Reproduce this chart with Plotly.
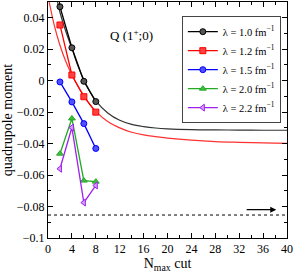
import plotly.graph_objects as go

nmax = [2, 4, 6, 8]
q_l10 = [0.0470, 0.0209, -0.0004, -0.0133]
q_l12 = [0.0354, 0.0036, -0.0102, -0.0200]
q_l15 = [-0.0008, -0.0135, -0.0273, -0.0431]
q_l20 = [-0.0464, -0.0240, -0.0635, -0.0642]
q_l22 = [-0.0560, -0.0298, -0.0775, -0.0666]

# extrapolation curves
fit_n_10 = [1.6, 2, 3, 4, 5, 6, 7, 8, 10, 12, 14, 16, 18, 20, 24, 28, 32, 36, 40]
fit_q_10 = [0.050, 0.0435, 0.031, 0.0205, 0.0095, 0.0005, -0.0068, -0.0128, -0.0205, -0.0252,
            -0.0278, -0.0292, -0.0301, -0.0306, -0.0311, -0.0313, -0.0314, -0.0315, -0.0315]
fit_n_12 = [0.2, 1, 2, 3, 4, 5, 6, 7, 8, 10, 12, 14, 16, 18, 20, 24, 28, 32, 36, 40]
fit_q_12 = [0.050, 0.036, 0.0225, 0.012, 0.0036, -0.0035, -0.0095, -0.015, -0.0195, -0.026,
            -0.030, -0.0328, -0.0345, -0.0356, -0.0365, -0.0378, -0.0387, -0.0392, -0.0396, -0.0398]

exact_q = -0.0854
labels = ["λ = 1.0 fm<sup>−1</sup>", "λ = 1.2 fm<sup>−1</sup>", "λ = 1.5 fm<sup>−1</sup>",
          "λ = 2.0 fm<sup>−1</sup>", "λ = 2.2 fm<sup>−1</sup>"]

FONT = "Liberation Serif"
fig = go.Figure()

fig.add_trace(go.Scatter(x=fit_n_10, y=fit_q_10, mode="lines", line=dict(color="#333333", width=1.2, shape="spline"),
                         showlegend=False, hoverinfo="skip"))
fig.add_trace(go.Scatter(x=fit_n_12, y=fit_q_12, mode="lines", line=dict(color="#ff3030", width=1.2, shape="spline"),
                         showlegend=False, hoverinfo="skip"))
fig.add_trace(go.Scatter(x=[0, 40], y=[exact_q, exact_q], mode="lines",
                         line=dict(color="black", width=1, dash="dot"), showlegend=False, hoverinfo="skip"))

series = [
    (q_l10, labels[0], "black", "circle", "#555555"),
    (q_l12, labels[1], "#ff0000", "square", "#ff4040"),
    (q_l15, labels[2], "#0000ff", "circle", "#5050ff"),
    (q_l20, labels[3], "#22aa22", "triangle-up", "#44bb44"),
    (q_l22, labels[4], "#a020f0", "triangle-left", "#d0a0ff"),
]
for y, name, col, sym, fill in series:
    fig.add_trace(go.Scatter(x=nmax, y=y, name=name, mode="lines+markers",
                             line=dict(color=col, width=1.3),
                             marker=dict(symbol=sym, size=6, color=fill, line=dict(color=col, width=1))))

fig.add_annotation(x=38.2, y=-0.082, ax=33, ay=-0.082, xref="x", yref="y", axref="x", ayref="y",
                   showarrow=True, arrowhead=2, arrowsize=1, arrowwidth=1.2, arrowcolor="black", text="")
fig.add_annotation(x=10, y=0.029, xref="x", yref="y", xanchor="left", yanchor="middle",
                   text="Q (1<sup>+</sup>;0)", showarrow=False, font=dict(family=FONT, size=13, color="black"))

axis_common = dict(showline=True, linecolor="black", linewidth=1, mirror="allticks", ticks="inside",
                   ticklen=5, tickcolor="black", showgrid=False, zeroline=False,
                   tickfont=dict(family=FONT, size=12, color="black"))
fig.update_xaxes(range=[0, 40], dtick=4, tick0=0,
                 minor=dict(dtick=2, ticks="inside", ticklen=3, tickcolor="black"),
                 title=dict(text="N<sub>max</sub> cut", font=dict(family=FONT, size=14, color="black"), standoff=6),
                 **axis_common)
fig.update_yaxes(range=[-0.1, 0.05], dtick=0.02, tick0=0,
                 minor=dict(dtick=0.01, ticks="inside", ticklen=3, tickcolor="black"),
                 title=dict(text="quadrupole moment", font=dict(family=FONT, size=14, color="black"), standoff=2),
                 **axis_common)

fig.update_layout(width=294, height=273, margin=dict(l=48, r=7, t=1, b=32),
                  plot_bgcolor="white", paper_bgcolor="white",
                  legend=dict(x=0.56, y=0.94, xanchor="left", yanchor="top", bgcolor="white",
                              bordercolor="#444444", borderwidth=1, tracegroupgap=0,
                              font=dict(family=FONT, size=10.5, color="black"), itemwidth=30))

fig.write_html("out.html", config={"displayModeBar": False},
               post_script="document.body.style.margin='0';document.body.style.overflow='hidden';")
